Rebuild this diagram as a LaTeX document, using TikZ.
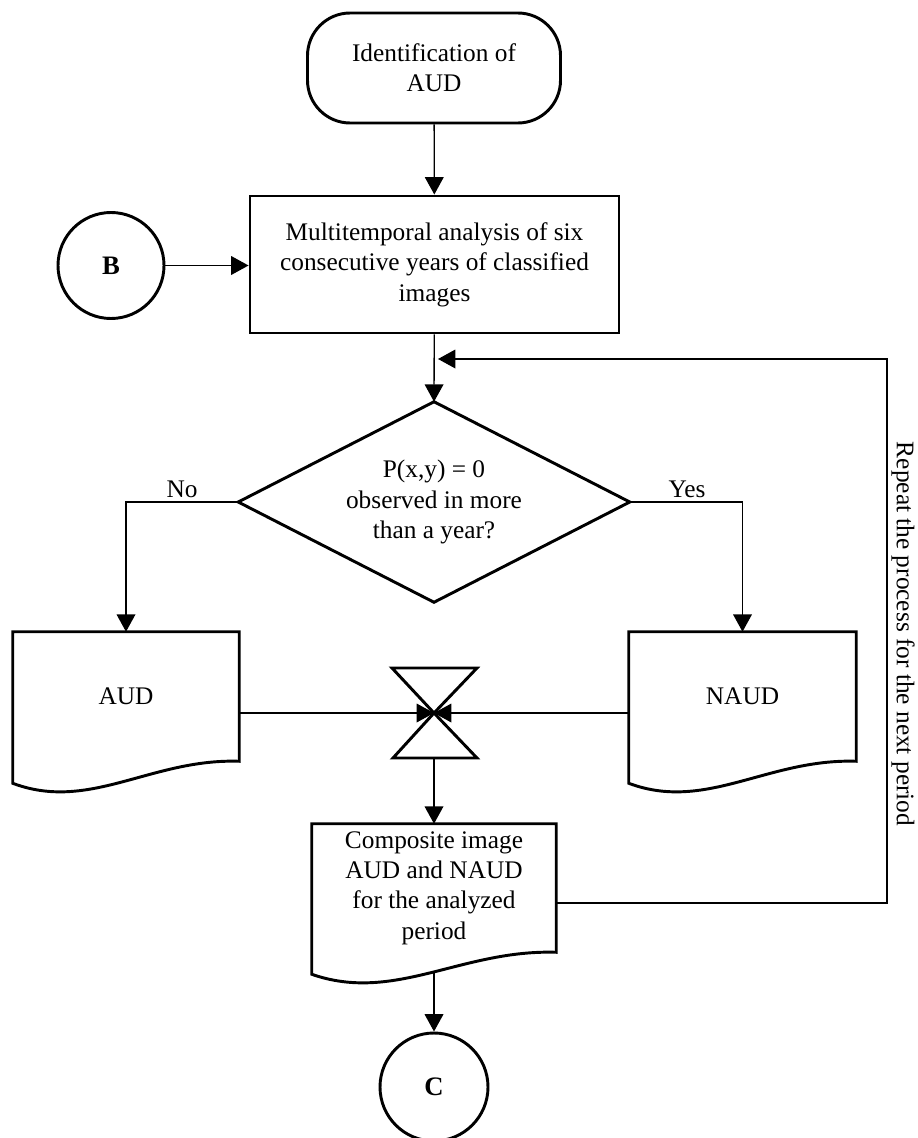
\documentclass[tikz,border=0pt]{standalone}
\usepackage{fontspec}
\setmainfont{Liberation Serif}
\usetikzlibrary{shapes.geometric,arrows.meta,calc}
\newcommand{\docoutline}[2]{%
  \draw[shp] (#1.south east) -- (#1.north east) -- (#1.north west) -- ($(#1.south west)+(0,22)$)
    .. controls +({#2*0.34},29) and +({-#2*0.39},-3) .. (#1.south east) -- cycle;}
\begin{document}
\begin{tikzpicture}[x=0.75pt,y=-0.75pt,
  shp/.style={draw,line width=2.2pt,line join=miter},
  txt/.style={font=\fontsize{19}{22.8}\selectfont,align=center,inner sep=0pt},
  conn/.style={line width=1pt,-{Triangle[length=13pt,width=14pt]}},
  conncircle/.style={shp,circle,font=\fontsize{20}{24}\selectfont\bfseries,inner sep=0pt}]
\useasboundingbox (0,0) rectangle (917,1138);

% nodes
\node[shp,txt,rounded corners=32pt,minimum width=189.75pt,minimum height=82.5pt] (term) at (434,68) {Identification of\\AUD};
\node[shp,txt,minimum width=276.75pt,minimum height=102.75pt] (rect) at (434.5,264.5) {Multitemporal analysis of six\\consecutive years of classified\\images};
\node[conncircle,minimum size=79.5pt] (B) at (111,265.5) {B};
\node[txt,minimum width=293.25pt,minimum height=150pt] (dia) at (434,502) {P(x,y) = 0\\observed in more\\than a year?};
\node[txt,minimum width=169.5pt,minimum height=96.75pt] (aud) at (126,696.5) {AUD};
\node[txt,minimum width=170.25pt,minimum height=96.75pt] (naud) at (742.5,696.5) {NAUD};
\node[txt,minimum width=183pt,minimum height=96pt] (comp) at (434,888) {Composite image\\AUD and NAUD\\for the analyzed\\period};
\node[conncircle,minimum size=81pt] (C) at (434,1087) {C};
\node[txt] (no) at (182,489) {No};
\node[txt] (yes) at (687,489) {Yes};
\node[txt,rotate=-90] (rep) at (903,634) {Repeat the process for the next period};

% decision diamond
\draw[shp] (dia.north) -- (dia.east) -- (dia.south) -- (dia.west) -- cycle;

% document shapes
\docoutline{aud}{226}
\docoutline{naud}{227}
\docoutline{comp}{244}

% collate (hourglass)
\coordinate (hg) at (434,713);
\coordinate (hgb) at (434,758);
\draw[shp] (392,668) -- (477,668) -- (hg) -- cycle;
\draw[shp] (hg) -- (477,758) -- (393,758) -- cycle;

% connectors
\draw[conn] (term) -- (rect);
\draw[conn] (B.east) -- (B.east -| rect.west);
\draw[conn] (rect) -- (dia.north);
\draw[conn] (dia.west) -| (aud.north);
\draw[conn] (dia.east) -| (naud.north);
\draw[conn] (aud.east |- hg) -- (hg);
\draw[conn] (naud.west |- hg) -- (hg);
\draw[conn] (hgb) -- (comp.north);
\draw[conn] ($(comp.south)+(0,20)$) -- (C);
\coordinate (fbc) at (887,359);
\coordinate (fbend) at (438,359);
\draw[conn] ($(comp.east)+(0,15)$) -| (fbc) -- (fbend);
\end{tikzpicture}
\end{document}
